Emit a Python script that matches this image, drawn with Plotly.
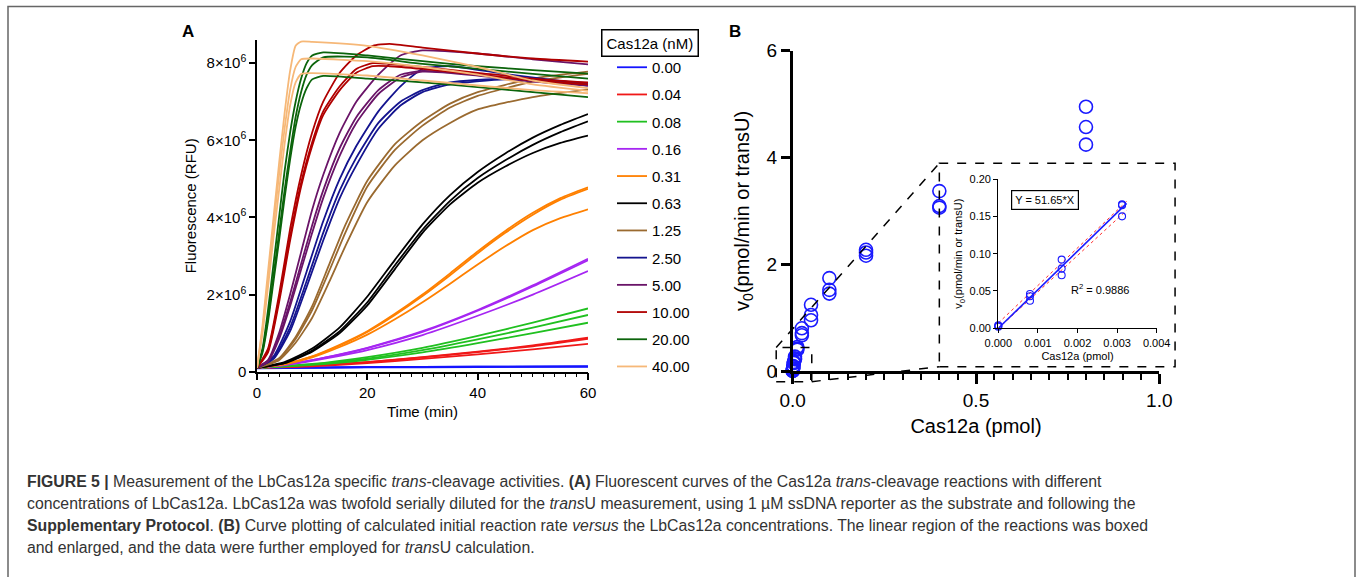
import plotly.graph_objects as go

W, H = 1357, 577
FONT = "Liberation Sans, Arial, sans-serif"

# ---------------- Panel A data (fluorescence in 10^6 RFU) ----------------
conc_labels = ["0.00", "0.04", "0.08", "0.16", "0.31", "0.63",
               "1.25", "2.50", "5.00", "10.00", "20.00", "40.00"]
conc_colors = ["#1414ff", "#f01818", "#20c020", "#a626f2", "#ff8000", "#000000",
               "#9a6a30", "#14148f", "#6a1468", "#b00000", "#0b640b", "#f6b878"]

t_000 = [0, 20, 40, 60]
f_000 = [[0.10, 0.12, 0.13, 0.14],
         [0.10, 0.12, 0.13, 0.135],
         [0.09, 0.11, 0.12, 0.13]]

t_004 = [0, 10, 20, 30, 40, 50, 60]
f_004 = [[0.10, 0.16, 0.25, 0.38, 0.52, 0.68, 0.88],
         [0.10, 0.16, 0.25, 0.37, 0.51, 0.66, 0.85],
         [0.10, 0.14, 0.22, 0.33, 0.45, 0.58, 0.72]]

t_008 = [0, 10, 20, 30, 40, 50, 60]
f_008 = [[0.10, 0.20, 0.38, 0.62, 0.93, 1.27, 1.64],
         [0.10, 0.19, 0.34, 0.56, 0.84, 1.14, 1.47],
         [0.10, 0.18, 0.31, 0.50, 0.74, 1.00, 1.27]]

t_016 = [0, 5, 10, 15, 20, 30, 40, 50, 60]
f_016 = [[0.10, 0.18, 0.30, 0.45, 0.62, 1.05, 1.60, 2.24, 2.93],
         [0.10, 0.18, 0.30, 0.44, 0.61, 1.03, 1.58, 2.21, 2.89],
         [0.10, 0.17, 0.28, 0.41, 0.56, 0.95, 1.45, 2.00, 2.61]]

t_031 = [0, 5, 10, 15, 20, 25, 30, 35, 40, 45, 50, 55, 60]
f_031 = [[0.10, 0.20, 0.40, 0.70, 1.05, 1.50, 2.00, 2.55, 3.12, 3.65, 4.12, 4.50, 4.78],
         [0.10, 0.20, 0.39, 0.68, 1.03, 1.47, 1.96, 2.50, 3.07, 3.60, 4.07, 4.46, 4.74],
         [0.10, 0.19, 0.37, 0.64, 0.96, 1.36, 1.80, 2.28, 2.78, 3.25, 3.67, 3.98, 4.21]]

t_063 = [0, 5, 10, 15, 20, 25, 30, 35, 40, 45, 50, 55, 60]
f_063 = [[0.10, 0.25, 0.60, 1.15, 1.95, 2.90, 3.82, 4.58, 5.18, 5.66, 6.07, 6.40, 6.68],
         [0.10, 0.23, 0.55, 1.05, 1.80, 2.76, 3.68, 4.43, 5.02, 5.48, 5.88, 6.21, 6.49],
         [0.10, 0.22, 0.52, 1.00, 1.72, 2.66, 3.60, 4.34, 4.90, 5.32, 5.67, 5.93, 6.12]]

t_125 = [0, 4, 7, 10, 13, 16, 20, 25, 30, 35, 40, 50, 60]
f_125 = [[0.10, 0.35, 0.90, 1.70, 2.75, 3.80, 4.95, 5.90, 6.50, 6.95, 7.25, 7.60, 7.78],
         [0.10, 0.33, 0.85, 1.60, 2.58, 3.60, 4.80, 5.75, 6.38, 6.85, 7.15, 7.52, 7.72],
         [0.10, 0.30, 0.75, 1.40, 2.30, 3.25, 4.40, 5.35, 6.00, 6.45, 6.80, 7.12, 7.32]]

t_250 = [0, 3, 6, 9, 12, 15, 18, 22, 26, 30, 35, 45, 60]
f_250 = [[0.10, 0.40, 1.30, 2.60, 3.90, 5.00, 5.85, 6.75, 7.40, 7.85, 7.92, 7.72, 7.45],
         [0.10, 0.35, 1.15, 2.35, 3.60, 4.70, 5.55, 6.45, 7.00, 7.30, 7.50, 7.60, 7.48],
         [0.10, 0.33, 1.05, 2.20, 3.40, 4.50, 5.35, 6.30, 6.90, 7.25, 7.45, 7.58, 7.42]]

t_500 = [0, 2, 4, 6, 8, 10, 12, 15, 18, 22, 26, 30, 40, 50, 60]
f_500 = [[0.10, 0.30, 1.00, 2.00, 3.10, 4.20, 5.10, 6.20, 7.00, 7.70, 8.20, 8.33, 8.25, 8.10, 7.97],
         [0.10, 0.28, 0.90, 1.80, 2.80, 3.80, 4.70, 5.80, 6.60, 7.30, 7.70, 7.80, 7.70, 7.55, 7.45],
         [0.10, 0.26, 0.85, 1.70, 2.65, 3.60, 4.50, 5.60, 6.45, 7.20, 7.62, 7.78, 7.68, 7.52, 7.42]]

t_1000 = [0, 2, 4, 6, 8, 10, 12, 15, 18, 21, 24, 30, 40, 50, 60]
f_1000 = [[0.10, 0.60, 2.00, 3.70, 5.10, 6.20, 7.00, 7.75, 8.20, 8.45, 8.50, 8.40, 8.25, 8.12, 8.04],
          [0.10, 0.55, 1.90, 3.50, 4.90, 5.95, 6.75, 7.40, 7.85, 8.00, 7.98, 7.90, 7.75, 7.60, 7.50],
          [0.10, 0.50, 1.80, 3.40, 4.80, 5.85, 6.65, 7.30, 7.75, 7.92, 7.92, 7.85, 7.70, 7.55, 7.45]]

t_2000 = [0, 1, 2, 3, 4, 5, 6, 7, 8, 9, 10, 12, 20, 30, 40, 50, 60]
f_2000 = [[0.10, 0.60, 1.60, 2.80, 4.00, 5.20, 6.20, 7.00, 7.60, 8.00, 8.20, 8.28, 8.20, 8.05, 7.92, 7.82, 7.73],
          [0.10, 0.55, 1.40, 2.50, 3.60, 4.70, 5.70, 6.60, 7.25, 7.70, 7.95, 8.15, 8.15, 7.98, 7.85, 7.72, 7.60],
          [0.10, 0.50, 1.30, 2.35, 3.40, 4.50, 5.50, 6.35, 6.95, 7.35, 7.58, 7.67, 7.60, 7.50, 7.38, 7.25, 7.12]]

t_4000 = [0, 1, 2, 3, 4, 5, 6, 7, 8, 10, 20, 30, 40, 50, 60]
f_4000 = [[0.10, 1.20, 2.60, 4.00, 5.40, 6.70, 7.80, 8.45, 8.56, 8.55, 8.45, 8.20, 7.90, 7.55, 7.35],
          [0.10, 1.10, 2.40, 3.80, 5.10, 6.30, 7.30, 7.90, 8.10, 8.12, 8.05, 7.90, 7.70, 7.45, 7.28],
          [0.10, 1.00, 2.20, 3.50, 4.70, 5.90, 6.90, 7.50, 7.72, 7.74, 7.68, 7.55, 7.42, 7.30, 7.22]]

a_times = [t_000, t_004, t_008, t_016, t_031, t_063, t_125, t_250, t_500, t_1000, t_2000, t_4000]
a_values = [f_000, f_004, f_008, f_016, f_031, f_063, f_125, f_250, f_500, f_1000, f_2000, f_4000]

a_yticks = [0, 2e6, 4e6, 6e6, 8e6]
a_yticktext = ["0", "2×10<sup>6</sup>", "4×10<sup>6</sup>", "6×10<sup>6</sup>", "8×10<sup>6</sup>"]

# ---------------- Panel B data ----------------
b_x = [0, 0.0008, 0.0016, 0.003125, 0.00625, 0.0125, 0.025, 0.05, 0.1, 0.2, 0.4, 0.8]
b_rep1 = [0.004, 0.046, 0.092, 0.166, 0.27, 0.45, 0.80, 1.24, 1.74, 2.27, 3.37, 4.95]
b_rep2 = [0.003, 0.043, 0.080, 0.165, 0.24, 0.42, 0.71, 1.05, 1.52, 2.22, 3.09, 4.57]
b_rep3 = [0.002, 0.037, 0.071, 0.150, 0.22, 0.40, 0.67, 0.95, 1.45, 2.16, 3.06, 4.24]

inset_x = [0, 0.0008, 0.0016, 0.003125]
inset_rep1 = [0.004, 0.046, 0.092, 0.166]
inset_rep2 = [0.003, 0.043, 0.080, 0.165]
inset_rep3 = [0.002, 0.037, 0.071, 0.150]

fit_slope = 51.65
fit_x = [0.0, 0.00324]
band_x = [0.0, 0.00324]
band_hi = [0.007, 0.170]
band_lo = [0.000, 0.158]
r_squared = 0.9886

# ---------------- Layout geometry (pixels) ----------------
A_X = (257, 588)
A_Y = (371.7, 40)
B_X = (792.7, 1159.3)
B_Y = (371, 50.7)
I_X = (998.3, 1156.7)
I_Y = (328.3, 179)
B_XR = (0, 1.0)
B_YR = (0, 6)


def dom_x(p):
    return [p[0] / W, p[1] / W]


def dom_y(p):
    return [1 - p[0] / H, 1 - p[1] / H]


def bx_paper(v):
    return (B_X[0] + (v - B_XR[0]) / (B_XR[1] - B_XR[0]) * (B_X[1] - B_X[0])) / W


def by_paper(v):
    return 1 - (B_Y[0] - (v - B_YR[0]) / (B_YR[1] - B_YR[0]) * (B_Y[0] - B_Y[1])) / H


# zoom boxes in panel-B data units
small_box_x = [-0.045, 0.052]
small_box_y = [-0.20, 0.44]
big_box_x = [0.40, 1.043]
big_box_y = [0.08, 3.89]

fig = go.Figure()

# Panel A traces
for label, color, tt, reps in zip(conc_labels, conc_colors, a_times, a_values):
    for k, rep in enumerate(reps):
        fig.add_trace(go.Scatter(
            x=tt, y=[v * 1e6 for v in rep], mode="lines",
            line=dict(color=color, width=1.8, shape="spline", smoothing=0.55),
            name=label, legendgroup=label, showlegend=(k == 0),
            xaxis="x", yaxis="y", hoverinfo="skip"))

# Panel B main scatter
for rep in (b_rep1, b_rep2, b_rep3):
    fig.add_trace(go.Scatter(
        x=b_x, y=rep, mode="markers", showlegend=False, cliponaxis=False,
        marker=dict(symbol="circle-open", size=13, color="#1a1aff", line=dict(width=1.6)),
        xaxis="x2", yaxis="y2"))

# Inset: confidence band, fit line, points
for band in (band_hi, band_lo):
    fig.add_trace(go.Scatter(
        x=band_x, y=band, mode="lines", showlegend=False,
        line=dict(color="#ff3030", width=1, dash="dot"),
        xaxis="x3", yaxis="y3"))
fig.add_trace(go.Scatter(
    x=fit_x, y=[fit_slope * v for v in fit_x], mode="lines", showlegend=False,
    line=dict(color="#1a1aff", width=1.6), xaxis="x3", yaxis="y3"))
for rep in (inset_rep1, inset_rep2, inset_rep3):
    fig.add_trace(go.Scatter(
        x=inset_x, y=rep, mode="markers", showlegend=False, cliponaxis=False,
        marker=dict(symbol="circle-open", size=7, color="#1a1aff", line=dict(width=1.1)),
        xaxis="x3", yaxis="y3"))

axis_common = dict(showgrid=False, zeroline=False, showline=True, linecolor="black",
                   ticks="outside", tickcolor="black", mirror=False, automargin=False)

shapes = [
    # outer frame
    dict(type="rect", xref="paper", yref="paper", x0=8 / W, x1=1355 / W, y0=-0.05, y1=1 - 6.5 / H,
         line=dict(color="#666666", width=1.5)),
    # small dashed box
    dict(type="rect", xref="paper", yref="paper",
         x0=bx_paper(small_box_x[0]), x1=bx_paper(small_box_x[1]),
         y0=by_paper(small_box_y[0]), y1=by_paper(small_box_y[1]),
         line=dict(color="black", width=1.5, dash="dash")),
    # big dashed box
    dict(type="rect", xref="paper", yref="paper",
         x0=bx_paper(big_box_x[0]), x1=bx_paper(big_box_x[1]),
         y0=by_paper(big_box_y[0]), y1=by_paper(big_box_y[1]),
         line=dict(color="black", width=1.5, dash="dash")),
    # connectors
    dict(type="line", xref="paper", yref="paper",
         x0=bx_paper(small_box_x[0]), y0=by_paper(small_box_y[1]),
         x1=bx_paper(big_box_x[0]), y1=by_paper(big_box_y[1]),
         line=dict(color="black", width=1.5, dash="dash")),
    dict(type="line", xref="paper", yref="paper",
         x0=bx_paper(small_box_x[1]), y0=by_paper(small_box_y[0]),
         x1=bx_paper(big_box_x[0]), y1=by_paper(big_box_y[0]),
         line=dict(color="black", width=1.5, dash="dash")),
]

caption_lines = [
    "<b>FIGURE 5 |</b> Measurement of the LbCas12a specific <i>trans</i>-cleavage activities. <b>(A)</b> Fluorescent curves of the Cas12a <i>trans</i>-cleavage reactions with different",
    "concentrations of LbCas12a. LbCas12a was twofold serially diluted for the <i>trans</i>U measurement, using 1 µM ssDNA reporter as the substrate and following the",
    "<b>Supplementary Protocol</b>. <b>(B)</b> Curve plotting of calculated initial reaction rate <i>versus</i> the LbCas12a concentrations. The linear region of the reactions was boxed",
    "and enlarged, and the data were further employed for <i>trans</i>U calculation.",
]
caption_y = [481, 503.5, 525.5, 547.5]

annotations = [
    dict(text="<b>A</b>", x=188 / W, y=1 - 32 / H, xref="paper", yref="paper",
         xanchor="center", yanchor="middle",
         showarrow=False, font=dict(size=17, color="black", family=FONT)),
    dict(text="<b>B</b>", x=735 / W, y=1 - 32 / H, xref="paper", yref="paper",
         xanchor="center", yanchor="middle",
         showarrow=False, font=dict(size=17, color="black", family=FONT)),
    dict(text="Cas12a (nM)", x=650 / W, y=1 - 43 / H, xref="paper", yref="paper",
         xanchor="center", yanchor="middle",
         showarrow=False, font=dict(size=15, color="black", family=FONT),
         bordercolor="black", borderwidth=1.5, borderpad=4),
    dict(text="Y = 51.65*X", x=0.00118, y=0.172, xref="x3", yref="y3",
         xanchor="center", yanchor="middle",
         showarrow=False, font=dict(size=11, color="black", family=FONT),
         bordercolor="black", borderwidth=1.2, borderpad=3),
    dict(text="R<sup>2</sup> = %.4f" % r_squared, x=0.00258, y=0.052, xref="x3", yref="y3",
         xanchor="center", yanchor="middle",
         showarrow=False, font=dict(size=11, color="black", family=FONT)),
]
for line, yy in zip(caption_lines, caption_y):
    annotations.append(dict(text=line, x=25 / W, y=1 - yy / H, xref="paper", yref="paper",
                            xanchor="left", yanchor="middle", showarrow=False, align="left",
                            font=dict(size=15.8, color="#333333", family=FONT)))

fig.update_layout(
    width=W, height=H, autosize=False,
    margin=dict(l=0, r=0, t=0, b=0, pad=0, autoexpand=False),
    paper_bgcolor="white", plot_bgcolor="rgba(0,0,0,0)",
    font=dict(family=FONT, color="black"),
    showlegend=True,
    legend=dict(x=612 / W, y=1 - 51 / H, xanchor="left", yanchor="top",
                font=dict(size=15, family=FONT), traceorder="grouped", tracegroupgap=4.7,
                bgcolor="rgba(0,0,0,0)", itemclick=False, itemdoubleclick=False),
    xaxis=dict(axis_common, domain=dom_x(A_X), range=[0, 60], anchor="y",
               tickvals=[0, 20, 40, 60], ticklen=7, tickwidth=1.5, linewidth=1.5,
               minor=dict(dtick=2, ticklen=4, tickwidth=1.2, ticks="outside", tickcolor="black"),
               tickfont=dict(size=15), title=dict(text="Time (min)", font=dict(size=15), standoff=6)),
    yaxis=dict(axis_common, domain=dom_y(A_Y), range=[0, 8.6e6], anchor="x",
               tickvals=a_yticks, ticktext=a_yticktext, ticklen=6, tickwidth=1.5, linewidth=1.5,
               tickfont=dict(size=15), title=dict(text="Fluorescence (RFU)", font=dict(size=15), standoff=6)),
    xaxis2=dict(axis_common, domain=dom_x(B_X), range=list(B_XR), anchor="y2",
                tickvals=[0, 0.5, 1.0], tickformat=".1f", ticklen=10, tickwidth=2.5, linewidth=2.5,
                minor=dict(dtick=0.05, ticklen=6, tickwidth=1.8, ticks="outside", tickcolor="black"),
                tickfont=dict(size=19), title=dict(text="Cas12a (pmol)", font=dict(size=20), standoff=10)),
    yaxis2=dict(axis_common, domain=dom_y(B_Y), range=list(B_YR), anchor="x2",
                tickvals=[0, 2, 4, 6], ticklen=9, tickwidth=2.5, linewidth=2.5,
                tickfont=dict(size=19),
                title=dict(text="v<sub>0</sub>(pmol/min or transU)", font=dict(size=20), standoff=12)),
    xaxis3=dict(axis_common, domain=dom_x(I_X), range=[0, 0.004], anchor="y3",
                tickvals=[0, 0.001, 0.002, 0.003, 0.004], tickformat=".3f", ticklen=4, tickwidth=1,
                linewidth=1.2, tickfont=dict(size=11),
                title=dict(text="Cas12a (pmol)", font=dict(size=11), standoff=4)),
    yaxis3=dict(axis_common, domain=dom_y(I_Y), range=[0, 0.2], anchor="x3",
                tickvals=[0, 0.05, 0.10, 0.15, 0.20], tickformat=".2f", ticklen=4, tickwidth=1,
                linewidth=1.2, tickfont=dict(size=11),
                title=dict(text="v<sub>0</sub>(pmol/min or transU)", font=dict(size=11), standoff=4)),
    shapes=shapes,
    annotations=annotations,
)

fig.write_html(
    "out.html",
    config={"displayModeBar": False},
    post_script="document.body.style.margin='0';document.body.style.padding='0';"
                "document.body.style.overflow='hidden';",
)
